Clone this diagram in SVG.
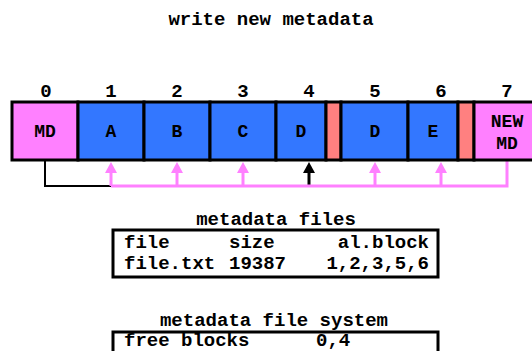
<svg xmlns="http://www.w3.org/2000/svg" width="532" height="351" viewBox="0 0 532 351">
<style>
.t{font-family:"Liberation Mono","Courier New",monospace;font-weight:bold;font-size:19px;fill:#000}
.s{font-size:18px}
.m{text-anchor:middle}
.b{stroke:#000;stroke-width:3}
.pk{fill:#ff80ff}
.bl{fill:#3377ff}
.rd{fill:#ff8080}
.pl{stroke:#ff80ff;stroke-width:3;fill:none}
.kl{stroke:#000;stroke-width:2;fill:none}
.ks{stroke:#000;stroke-width:3;fill:none}
</style>
<defs>
<marker id="ap" viewBox="0 0 11 12" refX="7" refY="6" markerWidth="11" markerHeight="12" markerUnits="userSpaceOnUse" orient="auto"><path d="M0,0 L11,6 L0,12 Z" fill="#ff80ff"/></marker>
<marker id="ak" viewBox="0 0 11 12" refX="7" refY="6" markerWidth="11" markerHeight="12" markerUnits="userSpaceOnUse" orient="auto"><path d="M0,0 L11,6 L0,12 Z" fill="#000"/></marker>
</defs>
<rect width="532" height="351" fill="#fff"/>
<text class="t m" x="271" y="25">write new metadata</text>
<g id="indices">
<text class="t m" x="46" y="97">0</text>
<text class="t m" x="111" y="97">1</text>
<text class="t m" x="177" y="97">2</text>
<text class="t m" x="243" y="97">3</text>
<text class="t m" x="309" y="97">4</text>
<text class="t m" x="375" y="97">5</text>
<text class="t m" x="441" y="97">6</text>
<text class="t m" x="507" y="97">7</text>
</g>
<g id="connectors">
<path class="kl" d="M45,161 V186 H309"/>
<path class="ks" d="M309,186 V166" marker-end="url(#ak)"/>
<path class="pl" d="M507,161 V186 H111"/>
<path class="pl" d="M111,186 V166" marker-end="url(#ap)"/>
<path class="pl" d="M177,186 V166" marker-end="url(#ap)"/>
<path class="pl" d="M243,186 V166" marker-end="url(#ap)"/>
<path class="pl" d="M375,186 V166" marker-end="url(#ap)"/>
<path class="pl" d="M441,186 V166" marker-end="url(#ap)"/>
</g>
<g id="block0"><rect class="pk b" x="12" y="102" width="66" height="58"/><text class="t s m" x="45" y="137">MD</text></g>
<g id="block1"><rect class="bl b" x="78" y="102" width="66" height="58"/><text class="t s m" x="111" y="137">A</text></g>
<g id="block2"><rect class="bl b" x="144" y="102" width="66" height="58"/><text class="t s m" x="177" y="137">B</text></g>
<g id="block3"><rect class="bl b" x="210" y="102" width="66" height="58"/><text class="t s m" x="243" y="137">C</text></g>
<g id="block4"><rect class="bl b" x="276" y="102" width="50" height="58"/><text class="t s m" x="301" y="137">D</text></g>
<g id="gap1"><rect class="rd b" x="326" y="102" width="15" height="58"/></g>
<g id="block5"><rect class="bl b" x="341" y="102" width="67" height="58"/><text class="t s m" x="375" y="137">D</text></g>
<g id="block6"><rect class="bl b" x="408" y="102" width="50" height="58"/><text class="t s m" x="433" y="137">E</text></g>
<g id="gap2"><rect class="rd b" x="458" y="102" width="16" height="58"/></g>
<g id="block7"><rect class="pk b" x="474" y="102" width="68" height="58"/><text class="t s m" x="507" y="127">NEW</text><text class="t s m" x="507" y="149">MD</text></g>
<g id="files">
<text class="t m" x="276" y="225">metadata files</text>
<rect x="113" y="230" width="325" height="47" fill="none" class="b"/>
<text class="t" x="124" y="248">file</text>
<text class="t" x="229" y="248">size</text>
<text class="t" x="429" y="248" text-anchor="end">al.block</text>
<text class="t" x="124" y="269">file.txt</text>
<text class="t" x="229" y="269">19387</text>
<text class="t" x="429" y="269" text-anchor="end">1,2,3,5,6</text>
</g>
<g id="fs">
<text class="t m" x="274" y="326">metadata file system</text>
<rect x="113" y="332" width="325" height="40" fill="none" class="b"/>
<text class="t" x="124" y="346">free blocks</text>
<text class="t" x="316" y="346">0,4</text>
</g>
</svg>
